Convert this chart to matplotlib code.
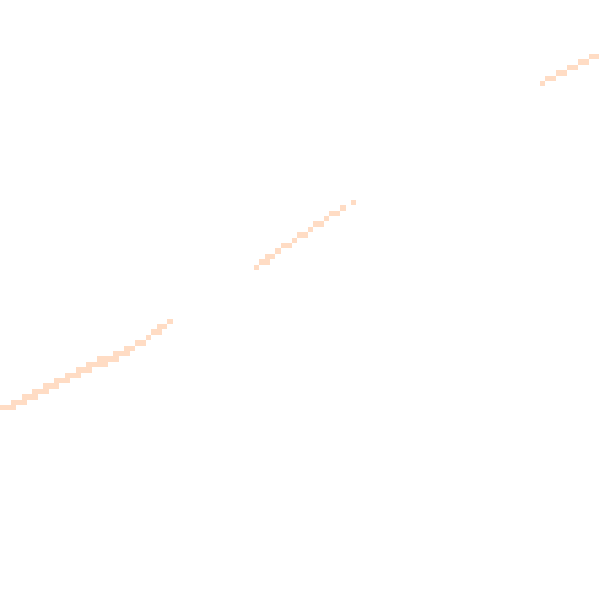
import numpy as np
import matplotlib
matplotlib.use("Agg")
import matplotlib.pyplot as plt
from matplotlib.colors import ListedColormap

# celdas coloreadas: fila, columna inicial, columna final (inclusive)
seg1_rows = [75, 74, 73, 72, 71, 70, 69, 68, 67, 66, 65, 64, 63, 62, 61, 60, 59]
seg1_c0 = [0, 2, 4, 6, 8, 10, 12, 14, 16, 18, 21, 23, 25, 27, 28, 29, 31]
seg1_c1 = [2, 4, 6, 8, 10, 12, 14, 16, 19, 21, 23, 24, 26, 27, 29, 30, 31]

seg2_rows = [49, 48, 47, 46, 45, 44, 43, 42, 41, 40, 39, 38, 37]
seg2_c0 = [47, 48, 49, 51, 52, 54, 55, 57, 58, 60, 61, 63, 65]
seg2_c1 = [47, 49, 50, 51, 53, 54, 56, 57, 59, 60, 62, 63, 65]

seg3_rows = [15, 14, 13, 12, 11, 10]
seg3_c0 = [100, 101, 103, 105, 107, 109]
seg3_c1 = [100, 102, 104, 106, 108, 110]

n_cells = 112
cell = 5.4

grid = np.full((n_cells, n_cells), np.nan)
for rows, c0s, c1s in [(seg1_rows, seg1_c0, seg1_c1),
                       (seg2_rows, seg2_c0, seg2_c1),
                       (seg3_rows, seg3_c0, seg3_c1)]:
    for r, a, b in zip(rows, c0s, c1s):
        grid[r, a:b + 1] = 1.0

edges = np.arange(n_cells + 1) * cell

fig = plt.figure(figsize=(6, 6), dpi=100)
ax = fig.add_axes([0, 0, 1, 1])
ax.pcolormesh(edges, edges, grid, cmap=ListedColormap(["#ffdcc4"]),
              vmin=0, vmax=1, shading="flat", antialiased=False, snap=True)
ax.set_xlim(0, 600)
ax.set_ylim(600, 0)
ax.axis("off")

fig.savefig("out.png", dpi=100, facecolor="white")
